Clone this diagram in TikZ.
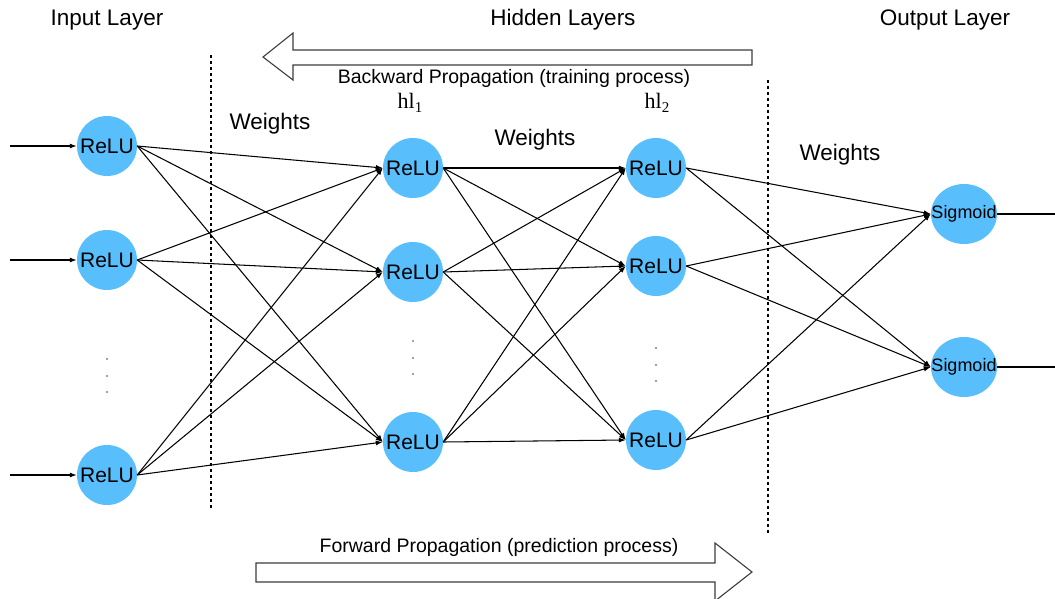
\documentclass[tikz,border=0pt]{standalone}
\usepackage{fontspec}
\setmainfont{Liberation Sans}
\newfontfamily\serifh{Liberation Serif}
\usetikzlibrary{arrows.meta,shapes.geometric}
\definecolor{neuron}{RGB}{88,190,252}
\definecolor{framegray}{RGB}{60,60,60}
\newcommand{\layersub}[1]{\raisebox{-4.5pt}{\fontsize{15}{17}\selectfont #1}}
\tikzset{
  relu/.style={circle,fill=neuron,minimum size=60pt,inner sep=0pt,
    font=\fontsize{21}{25}\selectfont},
  sigm/.style={ellipse,fill=neuron,minimum width=66pt,minimum height=60pt,inner sep=0pt,
    font=\fontsize{18}{22}\selectfont},
  link/.style={line width=1.05pt,-{Latex[length=7pt,width=5pt]}},
  plain/.style={line width=1.05pt},
  title/.style={font=\fontsize{22.5}{27}\selectfont},
  weightlbl/.style={font=\fontsize{22.5}{27}\selectfont},
  caption/.style={font=\fontsize{19.5}{23}\selectfont},
  layername/.style={font=\serifh\fontsize{22}{26}\selectfont},
  divider/.style={line width=1.2pt,dash pattern=on 3pt off 3pt},
  bigarrow/.style={draw=framegray,line width=1.1pt,fill=white,line join=miter},
  dot/.style={circle,fill=gray,inner sep=0pt,minimum size=2.4pt}
}
\begin{document}
\begin{tikzpicture}[x=1pt,y=-1pt]
\useasboundingbox (0,0) rectangle (1055,598);

% column titles
\node[title] (tin) at (107,20) {Input Layer};
\node[title] (thid) at (563,20) {Hidden Layers};
\node[title] (tout) at (945,20) {Output Layer};

% backward propagation arrow
\draw[bigarrow] (263,57) -- (293,33) -- (293,50) -- (752,50) -- (752,65)
  -- (293,65) -- (293,80) -- cycle;
\node[caption] (back) at (514,78) {Backward Propagation (training process)};

% forward propagation arrow
\draw[bigarrow] (256,563) -- (715,563) -- (715,543) -- (752,572) -- (715,601)
  -- (715,582) -- (256,582) -- cycle;
\node[caption] (fwd) at (499,547) {Forward Propagation (prediction process)};

% dashed separators
\draw[divider] (211,55) -- (211,510);
\draw[divider] (768,80) -- (768,535);

% weight labels
\node[weightlbl] (w1) at (270,124) {Weights};
\node[weightlbl] (w2) at (535,140) {Weights};
\node[weightlbl] (w3) at (840,155) {Weights};

% hidden layer names
\node[layername] (hl1) at (410,103) {hl\layersub{1}};
\node[layername] (hl2) at (657,103) {hl\layersub{2}};

% input layer
\node[relu] (i1) at (107,146) {ReLU};
\node[relu] (i2) at (107,260) {ReLU};
\node[relu] (i3) at (107,475) {ReLU};

% first hidden layer
\node[relu] (a1) at (413,168) {ReLU};
\node[relu] (a2) at (413,272) {ReLU};
\node[relu] (a3) at (413,442) {ReLU};

% second hidden layer
\node[relu] (b1) at (656,168) {ReLU};
\node[relu] (b2) at (656,266) {ReLU};
\node[relu] (b3) at (656,440) {ReLU};

% output layer
\node[sigm] (o1) at (964,214) {\makebox[0pt]{Sigmoid}};
\node[sigm] (o2) at (964,367) {\makebox[0pt]{Sigmoid}};

% ellipsis dots
\foreach \y [count=\k] in {359,376,392} \node[dot] (di\k) at (107,\y) {};
\foreach \y [count=\k] in {341,358,374} \node[dot] (da\k) at (413,\y) {};
\foreach \y [count=\k] in {348,365,381} \node[dot] (db\k) at (656,\y) {};

% external inputs and outputs
\coordinate (s1) at (10,146);
\coordinate (s2) at (10,260);
\coordinate (s3) at (10,475);
\coordinate (e1) at (1055,214);
\coordinate (e2) at (1055,367);
\foreach \k in {1,2,3} \draw[link] (s\k) -- (i\k.west);
\draw[plain] (o1.east) -- (e1);
\draw[plain] (o2.east) -- (e2);

% weighted connections
\foreach \s in {1,2,3} \foreach \t in {1,2,3} \draw[link] (i\s.east) -- (a\t.west);
\foreach \s in {1,2,3} \foreach \t in {1,2,3} \draw[link] (a\s.east) -- (b\t.west);
\foreach \s in {1,2,3} \foreach \t in {1,2} \draw[link] (b\s.east) -- (o\t.west);
\end{tikzpicture}
\end{document}
